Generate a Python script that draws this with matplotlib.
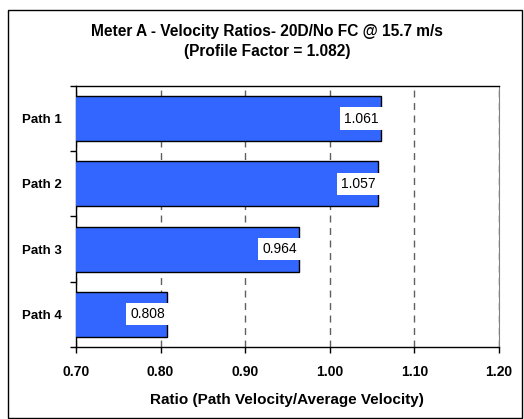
import matplotlib
matplotlib.use("Agg")
import matplotlib.pyplot as plt
from matplotlib.patches import Rectangle

plt.rcParams["font.family"] = ["Liberation Sans", "DejaVu Sans"]

paths = ["Path 1", "Path 2", "Path 3", "Path 4"]
ratios = [1.061, 1.057, 0.964, 0.808]
xticks = [0.70, 0.80, 0.90, 1.00, 1.10, 1.20]

fig = plt.figure(figsize=(5.24, 4.19), dpi=100)
ax = fig.add_axes([0.145, 0.172, 0.807, 0.623])

# outer chart border
fig.patches.append(Rectangle((0.015, 0.002), 0.981, 0.974, transform=fig.transFigure,
                             fill=False, edgecolor="black", linewidth=1.0))

ypos = list(range(len(paths)))[::-1]
ax.barh(ypos, ratios, left=0, height=0.69, color="#3366FF", edgecolor="black",
        linewidth=1.0, zorder=3)
ax.set_xlim(0.70, 1.20)
ax.set_ylim(-0.5, len(paths) - 0.5)

for y, v in zip(ypos, ratios):
    ax.text(v - 0.003, y, f"{v:.3f}", ha="right", va="center", fontsize=10,
            zorder=4, bbox=dict(boxstyle="square,pad=0.3", fc="white", ec="none"))

ax.set_xticks(xticks)
ax.set_xticklabels([f"{t:.2f}" for t in xticks], fontsize=10, fontweight="bold")
ax.xaxis.grid(True, linestyle=(0, (5, 4)), color="#606060", linewidth=1.0, zorder=0)
ax.set_axisbelow(True)

ax.set_yticks(ypos)
ax.set_yticklabels(paths, fontsize=9.5, fontweight="bold")
ax.tick_params(axis="y", length=0, pad=10)
ax.set_yticks([-0.5, 0.5, 1.5, 2.5, 3.5], minor=True)
ax.tick_params(axis="y", which="minor", length=4, width=1.0)
ax.tick_params(axis="x", length=4, width=1.0, pad=9)

for s in ["left", "bottom", "top"]:
    ax.spines[s].set_color("black")
    ax.spines[s].set_linewidth(1.0)
ax.spines["right"].set_color("#808080")

ax.set_xlabel("Ratio (Path Velocity/Average Velocity)", fontsize=11, fontweight="bold",
              labelpad=10)

fig.text(0.51, 0.925, "Meter A - Velocity Ratios- 20D/No FC @ 15.7 m/s",
         ha="center", va="center", fontsize=11.2, fontweight="bold")
fig.text(0.51, 0.877, "(Profile Factor = 1.082)",
         ha="center", va="center", fontsize=11.2, fontweight="bold")

fig.savefig("out.png", dpi=100)
